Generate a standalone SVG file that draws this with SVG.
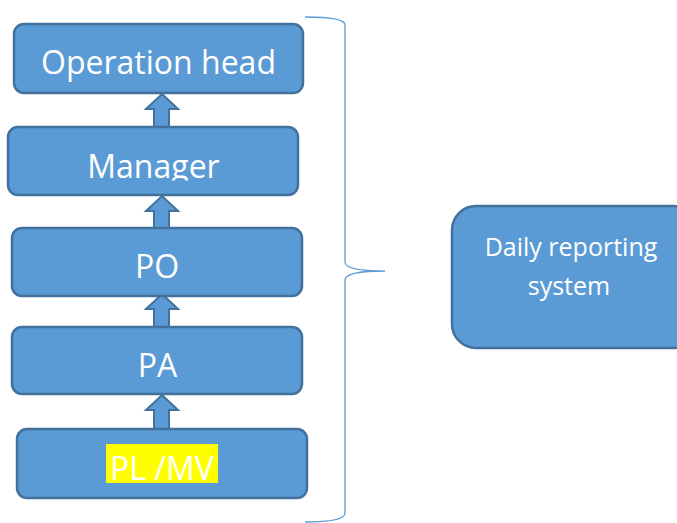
<svg xmlns="http://www.w3.org/2000/svg" width="677" height="523" viewBox="0 0 677 523">
  <style>
    .box { fill: #5B9BD5; stroke: #41719C; stroke-width: 2.5; }
    .arrow { fill: #5B9BD5; stroke: #41719C; stroke-width: 2; stroke-linejoin: miter; }
    .label { font-family: "Open Sans", "Noto Sans", "Liberation Sans", sans-serif; fill: #FFFFFF; text-anchor: middle; }
    .big { font-size: 32px; }
    .small { font-size: 25px; }
    .brace { fill: none; stroke: #5B9BD5; stroke-width: 1.3; }
  </style>
  <defs>
    <clipPath id="managerClip">
      <rect x="8" y="127" width="290" height="53.5"/>
    </clipPath>
  </defs>
  <rect width="677" height="523" fill="#FFFFFF"/>

  <!-- upward block arrows between levels -->
  <g id="connectors">
    <path class="arrow" d="M162,94 L178,109 L169,109 L169,127 L154,127 L154,109 L146,109 Z"/>
    <path class="arrow" d="M162,196 L178,211 L169,211 L169,228 L154,228 L154,211 L146,211 Z"/>
    <path class="arrow" d="M162,294 L178,309 L169,309 L169,327 L154,327 L154,309 L146,309 Z"/>
    <path class="arrow" d="M162,395 L178,410 L169,410 L169,429 L154,429 L154,410 L146,410 Z"/>
  </g>

  <g id="operation-head">
    <rect class="box" x="14" y="24" width="289" height="69" rx="10"/>
    <text class="label big" x="158.5" y="74">Operation head</text>
  </g>

  <g id="manager">
    <rect class="box" x="8" y="127" width="290" height="68" rx="10"/>
    <text class="label big" x="153.5" y="177.5" clip-path="url(#managerClip)">Manager</text>
  </g>

  <g id="po">
    <rect class="box" x="12" y="228" width="290" height="68" rx="10"/>
    <text class="label big" x="157" y="278">PO</text>
  </g>

  <g id="pa">
    <rect class="box" x="12" y="327" width="290" height="67" rx="10"/>
    <text class="label big" x="157.5" y="377">PA</text>
  </g>

  <g id="pl-mv">
    <rect class="box" x="17" y="429" width="290" height="69" rx="10"/>
    <rect x="106" y="444" width="112" height="39" fill="#FFFF00"/>
    <text class="label big" x="162" y="480">PL /MV</text>
  </g>

  <!-- curly brace grouping the hierarchy -->
  <g id="brace">
    <path class="brace" d="M305,17 C330,17 345,19 345,25 L345,262 C345,268 360,271 385,271 C360,271 345,274 345,280 L345,513 C345,519 330,522 305,522"/>
  </g>

  <g id="daily-reporting">
    <rect class="box" x="452" y="206" width="245" height="142" rx="24"/>
    <text class="label small" x="571" y="256">Daily reporting</text>
    <text class="label small" x="569" y="295">system</text>
  </g>
</svg>
